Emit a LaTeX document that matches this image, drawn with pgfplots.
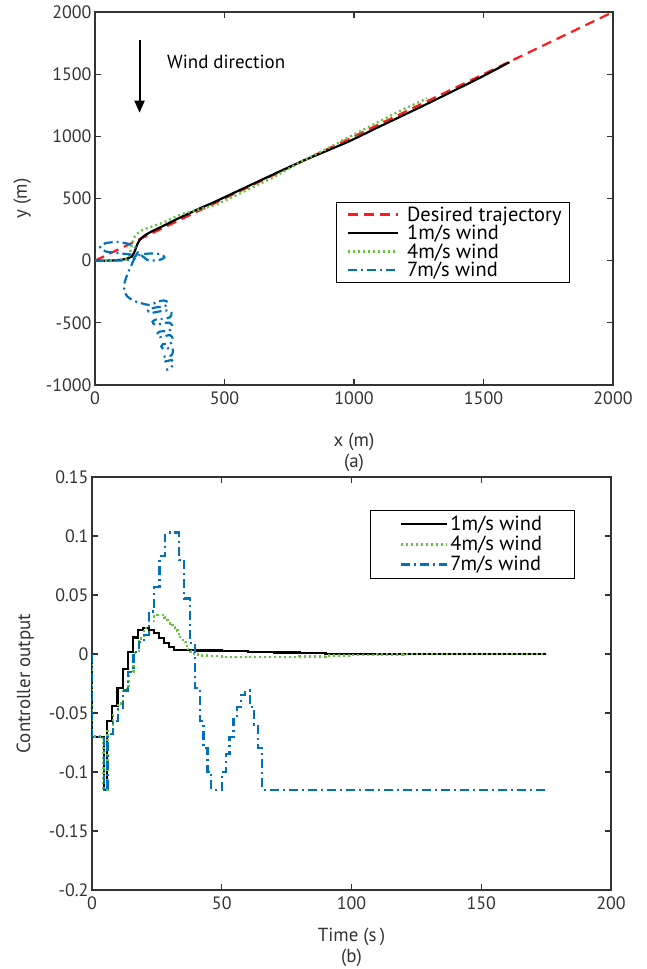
\documentclass[border=0pt]{standalone}
\usepackage{fontspec}
\setmainfont{PT Sans}
\usepackage{pgfplots}
\pgfplotsset{compat=1.18}
\usetikzlibrary{arrows.meta}
\definecolor{mred}{rgb}{1,0.1,0.1}
\definecolor{mgreen}{rgb}{0.42,0.76,0.26}
\definecolor{mblue}{rgb}{0,0.447,0.741}
\definecolor{axgray}{rgb}{0.2,0.2,0.2}
\pgfplotsset{mystyle/.style={
  scale only axis,
  axis line style={axgray, line width=1.5pt},
  tick style={axgray, line width=1.2pt},
  major tick length=6bp,
  tick align=inside,
  xtick pos=both, ytick pos=both,
  ticklabel style={font=\fontsize{18}{21}\selectfont, text=axgray},
  xticklabel style={yshift=-3bp},
  label style={font=\fontsize{19}{21}\selectfont, text=axgray},
  /pgf/number format/assume math mode=true,
  /pgf/number format/1000 sep={},
  /pgf/number format/fixed,
  legend cell align=left,
  legend style={draw=black, line width=0.7pt, font=\fontsize{20.5}{22}\selectfont},
}}
\tikzset{
  reddash/.style={mred, line width=2.2pt, dash pattern=on 10bp off 6bp},
  blk/.style={black, line width=2.2pt},
  grdot/.style={mgreen, line width=2.4pt, dash pattern=on 2bp off 3bp},
  bldd/.style={mblue, line width=2.2pt, dash pattern=on 9bp off 4bp on 2bp off 4bp},
}
\begin{document}
\begin{tikzpicture}
\useasboundingbox (0,0) rectangle (647bp,969bp);
% ---------- (a) ----------
\begin{axis}[mystyle,
  at={(95bp,584bp)}, anchor=south west,
  width=518bp, height=373bp,
  xmin=0, xmax=2000, ymin=-1000, ymax=2000,
  xtick={0,500,1000,1500,2000},
  ytick={-1000,-500,0,500,1000,1500,2000},
  xlabel={x (m)\\(a)}, xlabel style={align=center, yshift=-22bp},
  ylabel={y (m)}, ylabel style={yshift=8bp},
  legend image code/.code={\draw[#1] (4bp,0bp) -- (54bp,0bp); \path (0bp,0bp) (60bp,0bp);},
  legend style={at={(0.466,0.49)}, anchor=north west, inner xsep=6bp, inner ysep=2bp, row sep=-1.5bp},
]
\addplot[reddash] coordinates {(0,0) (2000,2000)};
\addlegendentry{Desired trajectory}
\addplot[blk, smooth] coordinates {
(0,0) (40,0) (70,2) (100,7) (125,17) (140,33) (150,60) (157,95) (163,130)
(170,158) (180,183) (195,207) (220,236) (260,276) (327,345) (404,420) (455,466)
(500,510) (596,604) (700,705) (800,800) (900,888) (981,960) (1100,1080)
(1173,1152) (1276,1255) (1400,1382) (1500,1486) (1600,1596)};
\addlegendentry{1m/s wind}
\addplot[grdot, smooth] coordinates {
(0,0) (40,0) (80,2) (110,6) (125,14) (133,45) (140,105) (148,168) (160,212)
(180,242) (200,260) (263,306) (327,368) (380,400) (455,442) (500,482)
(596,577) (700,683) (790,790) (900,905) (981,994) (1100,1122) (1173,1200)
(1282,1305)};
\addlegendentry{4m/s wind}
\addplot[bldd, smooth] coordinates {
(0,0) (60,0) (110,3) (140,12) (160,45) (165,90) (140,128) (90,150) (40,140)
(20,110) (40,75) (90,60) (140,50) (180,42) (200,8) (240,2) (268,25) (255,50)
(220,58) (180,50) (160,33) (150,8) (140,-40) (125,-110) (114,-180) (113,-240)
(125,-288) (150,-323) (180,-343) (212,-356) (240,-332) (265,-320) (282,-335)
(275,-360) (250,-372) (225,-380) (205,-400) (215,-420) (245,-410) (275,-400)
(295,-420) (290,-455) (265,-468) (240,-470) (222,-490) (232,-515) (260,-505)
(285,-498) (298,-520) (292,-555) (270,-568) (250,-570) (240,-592) (250,-615)
(272,-605) (290,-600) (300,-625) (295,-660) (278,-670) (262,-672) (256,-690)
(265,-712) (282,-705) (296,-700) (301,-725) (296,-760) (282,-768) (270,-770)
(264,-790) (272,-810) (286,-803) (297,-800) (300,-825) (295,-860) (284,-872)
(275,-878)};
\addlegendentry{7m/s wind}
\draw[black, line width=2pt, -{Triangle[length=12bp,width=10bp]}] (axis cs:172,1775) -- (axis cs:172,1190);
\node[anchor=west, font=\fontsize{19}{23}\selectfont, text=black] at (axis cs:265,1600) {Wind direction};
\end{axis}
% ---------- (b) ----------
\begin{axis}[mystyle,
  at={(92bp,79bp)}, anchor=south west,
  width=519bp, height=413bp,
  xmin=0, xmax=200, ymin=-0.2, ymax=0.15,
  xtick={0,50,100,150,200},
  ytick={-0.2,-0.15,-0.1,-0.05,0,0.05,0.1,0.15},
  yticklabels={-0.2,-0.15,-0.1,-0.05,0,0.05,0.1,0.15},
  xlabel={Time (s\,)\\(b)}, xlabel style={align=center, yshift=-12bp},
  ylabel={Controller output}, ylabel style={yshift=8bp},
  legend image code/.code={\draw[#1] (0bp,0bp) -- (46bp,0bp);},
  legend style={at={(0.535,0.92)}, anchor=north west, inner xsep=30bp, inner ysep=4bp, row sep=0bp},
]
\addplot[blk, const plot] coordinates {
(0,0) (0,-0.07) (4.5,-0.115) (5.9,-0.057) (7.7,-0.044) (9.8,-0.029) (11.9,-0.013)
(13.9,0.002) (15.8,0.014) (17.7,0.0205) (19.6,0.022) (22,0.020) (23.9,0.0177)
(25.8,0.0135) (27.7,0.0093) (29.6,0.0056) (31.5,0.0035) (40,0.003) (50,0.0025)
(60,0.0018) (70,0.0012) (80,0.0007) (90,0.0003) (100,0.0001) (110,0) (175,0)};
\addlegendentry{1m/s wind}
\addplot[grdot, const plot] coordinates {
(0,0) (0,-0.07) (4.5,-0.115) (6,-0.065) (8,-0.052) (10,-0.042) (12,-0.030)
(14,-0.015) (16,0.001) (18,0.013) (20,0.022) (22,0.028) (24,0.032) (25,0.033)
(28,0.031) (29,0.029) (30,0.026) (31,0.023) (32,0.020) (33,0.017) (34,0.013)
(35,0.010) (36,0.007) (37,0.004) (38,0.002) (39,0.0005) (40,-0.0005)
(42,-0.0012) (45,-0.0018) (50,-0.0023) (55,-0.0026) (60,-0.0028) (70,-0.0026)
(80,-0.0021) (90,-0.0014) (100,-0.0008) (110,-0.0003) (120,0) (175,0)};
\addlegendentry{4m/s wind}
\addplot[bldd, const plot] coordinates {
(0,0) (0,-0.07) (4.5,-0.115) (6,-0.068) (8,-0.057) (10,-0.046) (12,-0.031)
(14,-0.015) (16,0.002) (18,0.010) (20,0.016) (22,0.036) (24,0.057) (26,0.083)
(28,0.101) (30,0.103) (33.5,0.080) (35.6,0.047) (37.8,0.009) (39.7,-0.029)
(41.7,-0.057) (43,-0.080) (44.5,-0.100) (46,-0.115) (50,-0.100) (51.5,-0.085)
(53,-0.070) (54.5,-0.055) (56,-0.045) (57.5,-0.035) (59,-0.031) (61,-0.045)
(62.5,-0.060) (64,-0.080) (65.5,-0.115) (175,-0.115)};
\addlegendentry{7m/s wind}
\end{axis}
\end{tikzpicture}
\end{document}
